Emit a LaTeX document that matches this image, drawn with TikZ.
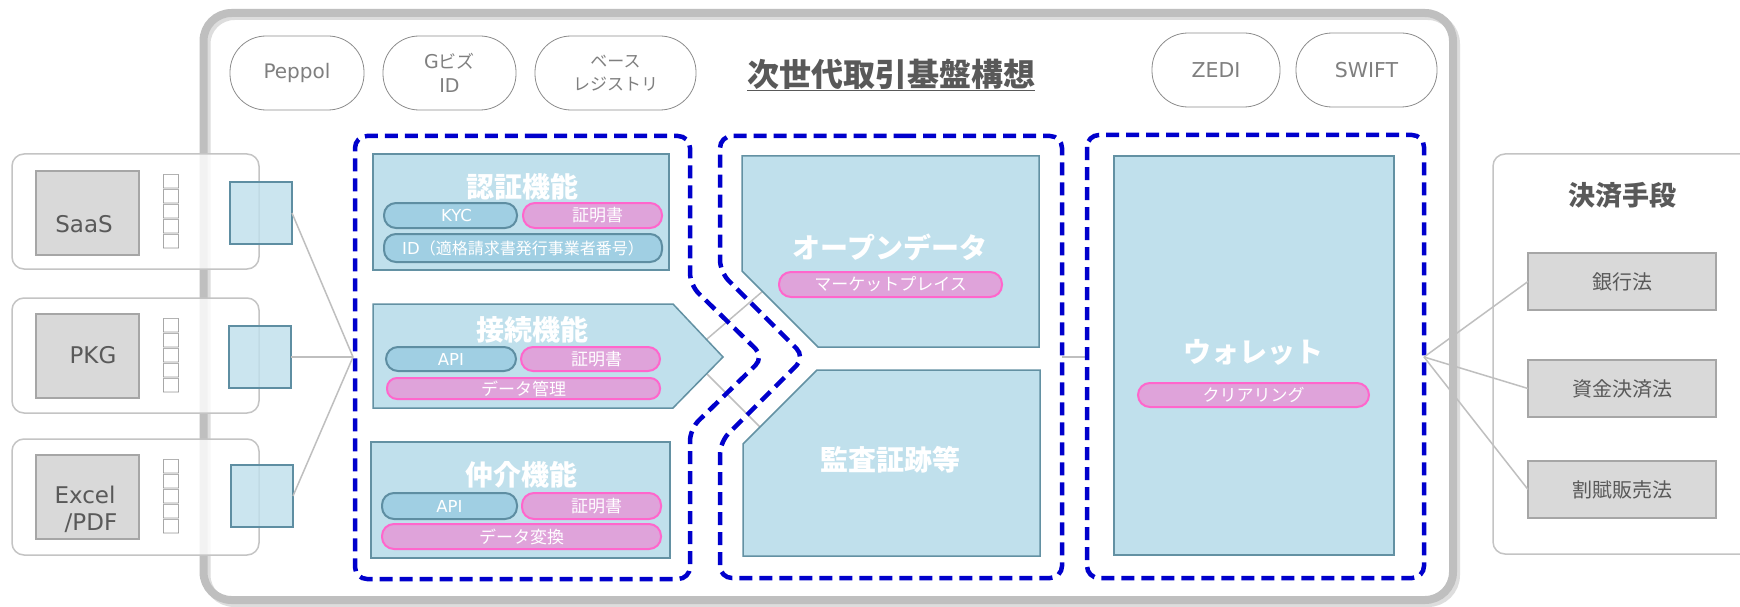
\documentclass[tikz,border=0pt]{standalone}
\usepackage{fontspec}
\usepackage{graphicx}
\setmainfont{Noto Sans CJK JP}
\newfontfamily\jp{Noto Sans CJK JP}
\newfontfamily\lat{DejaVu Sans}
\newcommand{\setfs}[1]{\fontsize{#1}{#1}\selectfont}
\newcommand{\tofubox}{\scalebox{1}[0.88]{□}}
\definecolor{framegray}{HTML}{BFBFBF}
\definecolor{shadowgray}{HTML}{DDDDDD}
\definecolor{panelgray}{HTML}{C4C4C4}
\definecolor{gboxfill}{HTML}{D9D9D9}
\definecolor{gboxline}{HTML}{A6A6A6}
\definecolor{darktext}{HTML}{595959}
\definecolor{pilltext}{HTML}{7F7F7F}
\definecolor{pillline}{HTML}{8C8C8C}
\definecolor{boxfill}{HTML}{C0E0EC}
\definecolor{boxline}{HTML}{6391A3}
\definecolor{bpfill}{HTML}{A0CFE3}
\definecolor{bpline}{HTML}{5E8EA2}
\definecolor{ppfill}{HTML}{DFA3DA}
\definecolor{ppline}{HTML}{FF66CC}
\definecolor{dashblue}{HTML}{0000CC}
\definecolor{connline}{HTML}{BFBFBF}
\definecolor{tofugray}{HTML}{8C8C8C}
\tikzset{
  framestyle/.style={draw=framegray, line width=8pt, rounded corners=28pt},
  shadowstyle/.style={draw=shadowgray, line width=8pt, rounded corners=28pt},
  panel/.style={draw=panelgray, line width=1.5pt, rounded corners=12pt, fill=white, fill opacity=0.8, anchor=north west},
  gbox/.style={draw=gboxline, line width=1.5pt, fill=gboxfill, anchor=north west},
  gtxt/.style={text=darktext, font=\lat\setfs{23}},
  tofu/.style={text=tofugray, align=center, font=\jp\fontsize{20}{15}\selectfont},
  sqbox/.style={draw=bpline, line width=2pt, fill=boxfill, fill opacity=0.82, anchor=north west},
  tpill/.style={draw=pillline, line width=0.8pt, rounded corners=36pt, fill=white, text=pilltext, anchor=north west, align=center},
  ttl/.style={text=darktext, font=\jp\bfseries\setfs{32}},
  dbox/.style={draw=dashblue, line width=4.5pt, dash pattern=on 13pt off 7pt, rounded corners=12pt},
  fbox/.style={draw=boxline, line width=1.5pt, fill=boxfill},
  ftitle/.style={text=white, font=\jp\bfseries\setfs{28}},
  bpill/.style={draw=bpline, line width=2pt, fill=bpfill, rounded corners=12pt, text=white, anchor=north west, font=\lat\setfs{16.5}},
  ppill/.style={draw=ppline, line width=2pt, fill=ppfill, rounded corners=12pt, text=white, anchor=north west, font=\jp\setfs{17}},
  conn/.style={draw=connline, line width=1.5pt},
  every node/.style={inner sep=0pt, outer sep=0pt}
}
\begin{document}
\begin{tikzpicture}[x=1pt,y=-1pt]
\useasboundingbox (0,0) rectangle (1740,607);
\clip (0,0) rectangle (1740,607);
\fill[white] (0,0) rectangle (1740,607);

% main frame
\draw[shadowstyle] (206.5,16) rectangle (1456,603);
\draw[framestyle] (203.5,13) rectangle (1453,600);

% left panels
\node[panel, minimum width=247pt, minimum height=115pt] (pn1) at (12,154) {};
\node[panel, minimum width=247pt, minimum height=115pt] (pn2) at (12,298) {};
\node[panel, minimum width=247pt, minimum height=116pt] (pn3) at (12,439) {};

\node[gbox, minimum width=103pt, minimum height=84pt] (g1) at (36,171) {};
\node[gbox, minimum width=103pt, minimum height=84pt] (g2) at (36,314) {};
\node[gbox, minimum width=103pt, minimum height=84pt] (g3) at (36,455) {};
\node[gtxt] (g1t) at (84,224) {SaaS};
\node[gtxt] (g2t) at (93,355) {PKG};
\node[gtxt] (g3ta) at (85,495) {Excel};
\node[gtxt] (g3tb) at (91,523) {/PDF};

\node[tofu] (t1) at (171,212) {\tofubox\\\tofubox\\\tofubox\\\tofubox\\\tofubox};
\node[tofu] (t2) at (171,356) {\tofubox\\\tofubox\\\tofubox\\\tofubox\\\tofubox};
\node[tofu] (t3) at (171,497) {\tofubox\\\tofubox\\\tofubox\\\tofubox\\\tofubox};

\node[sqbox, minimum width=62pt, minimum height=62pt] (s1) at (230,182) {};
\node[sqbox, minimum width=62pt, minimum height=62pt] (s2) at (229,326) {};
\node[sqbox, minimum width=62pt, minimum height=62pt] (s3) at (231,465) {};

% top pills and title
\node[tpill, minimum width=134pt, minimum height=74pt, font=\lat\setfs{20}] (peppol) at (230,36) {Peppol};
\node[tpill, minimum width=133pt, minimum height=74pt, font=\jp\fontsize{18}{24}\selectfont] (gbiz) at (383,36) {{\lat\setfs{19}G}ビズ\\{\lat\setfs{19}ID}};
\node[tpill, minimum width=161pt, minimum height=74pt, font=\jp\fontsize{17}{23}\selectfont] (base) at (535,36) {ベース\\レジストリ};
\node[tpill, minimum width=128pt, minimum height=74pt, font=\lat\setfs{20.5}] (zedi) at (1152,33) {ZEDI};
\node[tpill, minimum width=141pt, minimum height=74pt, font=\lat\setfs{20.5}] (swift) at (1296,33) {SWIFT};
\node[ttl] (title) at (891,75) {\underline{次世代取引基盤構想}};

% connector coordinates
\coordinate (jL) at (353,357);
\coordinate (jR) at (1424,357);
\coordinate (d2r) at (1062,357);
\coordinate (d3l) at (1087,357);
\coordinate (pu) at (707,339);
\coordinate (ou) at (763,291);
\coordinate (pd) at (707,374);
\coordinate (ad) at (760,427);

\draw[conn] (pu) -- (ou);
\draw[conn] (pd) -- (ad);
\draw[conn] (d2r) -- (d3l);

% dashed groups
\draw[dbox] (522,136) -- (690,136) -- (690,285) -- (764,357) -- (690,429) -- (690,579) -- (355,579) -- (355,136) -- cycle;
\draw[dbox] (891,136) -- (1062,136) -- (1062,578) -- (720,578) -- (720,442) -- (805,357) -- (720,272) -- (720,136) -- cycle;
\draw[dbox] (1087,135) rectangle (1424,578);

% 認証機能
\node[fbox, anchor=north west, minimum width=296pt, minimum height=116pt] (auth) at (373,154) {};
\node[ftitle] (authT) at (522,187) {認証機能};
\node[bpill, minimum width=133pt, minimum height=25pt] (kyc) at (384,203) {\hspace{12pt}KYC};
\node[ppill, minimum width=139pt, minimum height=25pt] (cert1) at (523,203) {\hspace{10pt}証明書};
\node[bpill, minimum width=278pt, minimum height=28pt] (idp) at (384,234) {ID{\jp\setfs{16}（適格請求書発行事業者番号）}};

% 接続機能
\draw[fbox] (373,304) -- (673,304) -- (723,357) -- (673,408) -- (373,408) -- cycle;
\node[ftitle] (connT) at (532,330) {接続機能};
\node[bpill, minimum width=130pt, minimum height=24pt] (api1) at (386,347) {API};
\node[ppill, minimum width=139pt, minimum height=24pt] (cert2) at (521,347) {\hspace{12pt}証明書};
\node[ppill, minimum width=273pt, minimum height=21pt, rounded corners=10pt] (dm) at (387,378) {データ管理};

% 仲介機能
\node[fbox, anchor=north west, minimum width=299pt, minimum height=116pt] (med) at (371,442) {};
\node[ftitle] (medT) at (521,475) {仲介機能};
\node[bpill, minimum width=135pt, minimum height=26pt] (api2) at (382,493) {API};
\node[ppill, minimum width=139pt, minimum height=26pt] (cert3) at (522,493) {\hspace{10pt}証明書};
\node[ppill, minimum width=279pt, minimum height=25pt] (conv) at (382,524) {データ変換};

% オープンデータ / 監査証跡等
\draw[fbox] (742,156) -- (1039,156) -- (1039,347) -- (818,347) -- (742,271) -- cycle;
\node[ftitle] (odT) at (890,247) {オープンデータ};
\node[ppill, minimum width=223pt, minimum height=25pt] (mkt) at (779,272) {マーケットプレイス};
\draw[fbox] (817,370) -- (1040,370) -- (1040,556) -- (743,556) -- (743,444) -- cycle;
\node[ftitle] (audT) at (890,460) {監査証跡等};

% ウォレット
\node[fbox, anchor=north west, minimum width=280pt, minimum height=399pt] (wallet) at (1114,156) {};
\node[ftitle] (walletT) at (1253,352) {ウォレット};
\node[ppill, minimum width=231pt, minimum height=24pt] (clear) at (1138,383) {クリアリング};

% 決済手段
\node[panel, minimum width=270pt, minimum height=400pt, fill opacity=1] (pay) at (1493,154) {};
\node[text=darktext, font=\jp\bfseries\setfs{27}] (payT) at (1622,195) {決済手段};
\node[gbox, minimum width=188pt, minimum height=57pt, font=\jp\setfs{20}, text=darktext] (bank) at (1528,253) {銀行法};
\node[gbox, minimum width=188pt, minimum height=57pt, font=\jp\setfs{20}, text=darktext] (fund) at (1528,360) {資金決済法};
\node[gbox, minimum width=188pt, minimum height=57pt, font=\jp\setfs{20}, text=darktext] (inst) at (1528,461) {割賦販売法};

% connectors
\draw[conn] (s1.east) -- (jL);
\draw[conn] (s2.east) -- (jL);
\draw[conn] (s3.east) -- (jL);
\draw[conn] (jR) -- (bank.west);
\draw[conn] (jR) -- (fund.west);
\draw[conn] (jR) -- (inst.west);
\end{tikzpicture}
\end{document}
